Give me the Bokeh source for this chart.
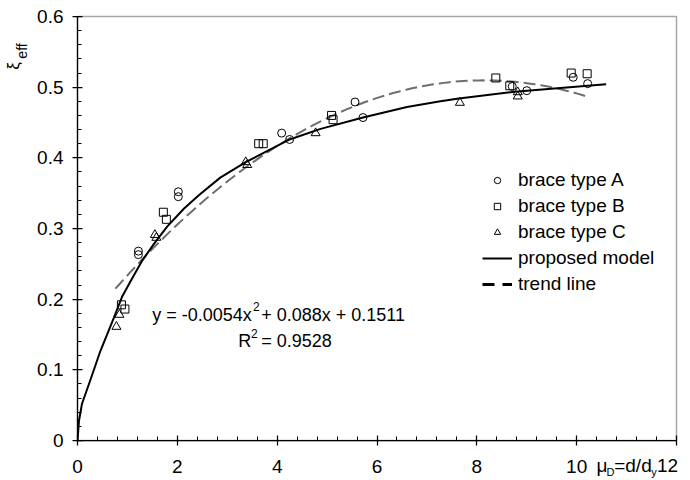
import numpy as np
from bokeh.plotting import figure
from bokeh.models import (Legend, LegendItem, Label, Range1d, FixedTicker, LinearAxis,
                          CustomJSTickFormatter)
from bokeh.embed import file_html
from bokeh.resources import INLINE

FONT = "Liberation Sans"
TXT = "19px"

# Equivalent damping ratio vs. ductility, per brace type
mu_a = [1.22, 1.22, 2.02, 2.02, 4.09, 4.25, 5.56, 5.72, 8.71, 9.00, 9.93, 10.22]
xi_a = [0.268, 0.263, 0.352, 0.345, 0.435, 0.426, 0.479, 0.457, 0.501, 0.495, 0.514, 0.505]

mu_b = [0.88, 0.95, 1.72, 1.78, 3.63, 3.72, 5.09, 5.12, 8.38, 8.66, 9.89, 10.21]
xi_b = [0.192, 0.186, 0.323, 0.313, 0.420, 0.420, 0.460, 0.454, 0.513, 0.502, 0.520, 0.519]

mu_c = [0.78, 0.84, 1.55, 1.58, 3.37, 3.40, 4.77, 7.66, 8.82, 8.82]
xi_c = [0.161, 0.178, 0.291, 0.287, 0.394, 0.390, 0.435, 0.478, 0.493, 0.487]

# Proposed model curve
model_mu = [0.00, 0.03, 0.09, 0.23, 0.46, 0.73, 0.89, 1.06, 1.30, 1.55, 1.80, 2.13,
            2.43, 2.86, 3.37, 4.25, 4.87, 5.72, 6.60, 7.27, 7.64, 8.82, 10.59]
model_xi = [0.000, 0.028, 0.052, 0.080, 0.127, 0.174, 0.203, 0.225, 0.255, 0.280, 0.303, 0.328,
            0.347, 0.372, 0.394, 0.426, 0.441, 0.457, 0.472, 0.480, 0.484, 0.494, 0.504]

# Quadratic trend line  y = a x^2 + b x + c
trend_a, trend_b, trend_c = -0.0054, 0.088, 0.1511
trend_r2 = 0.9528
trend_start, trend_end = 0.76, 10.19

# Axis ticks
x_ticks = [0, 2, 4, 6, 8, 10, 12]
y_ticks = [0.0, 0.1, 0.2, 0.3, 0.4, 0.5, 0.6]

trend_x = np.linspace(trend_start, trend_end, 120)
trend_y = trend_a * trend_x ** 2 + trend_b * trend_x + trend_c

p = figure(width=690, height=480, x_range=Range1d(0, 12), y_range=Range1d(0, 0.6),
           output_backend="svg", toolbar_location=None,
           min_border_left=77, min_border_right=14, min_border_top=16, min_border_bottom=40)
p.xgrid.visible = False
p.ygrid.visible = False
p.outline_line_color = "#a6a6a6"
p.outline_line_width = 1.5
p.background_fill_color = "white"

x_minor = [i * 0.4 for i in range(31)]
y_minor = [i * 0.02 for i in range(31)]
p.xaxis.ticker = FixedTicker(ticks=x_ticks, minor_ticks=x_minor)
p.yaxis.ticker = FixedTicker(ticks=y_ticks, minor_ticks=y_minor)
# the last x label is set inside the frame edge, next to the axis title
p.xaxis.formatter = CustomJSTickFormatter(
    code="return tick > 11 ? '' : tick.toFixed(0);")
p.yaxis.formatter = CustomJSTickFormatter(
    code="return Math.abs(tick) < 1e-9 ? '0' : tick.toFixed(1);")

for ax in (p.xaxis[0], p.yaxis[0]):
    ax.axis_line_color = "black"
    ax.axis_line_width = 1.25
    ax.major_tick_line_color = "black"
    ax.minor_tick_line_color = "black"
    ax.major_tick_line_width = 1.25
    ax.minor_tick_line_width = 1
    ax.major_tick_in = 5
    ax.major_tick_out = 5
    ax.minor_tick_in = 4
    ax.minor_tick_out = 0
    ax.major_label_text_font = FONT
    ax.major_label_text_font_size = TXT
    ax.major_label_text_color = "black"
p.xaxis.major_label_standoff = 14
p.yaxis.major_label_standoff = 9


def text_axis(side, ticks, labels, size, standoff, orientation="horizontal"):
    """Tick-less axis used only to place title pieces outside the frame."""
    ax = LinearAxis(
        ticker=FixedTicker(ticks=ticks, minor_ticks=[]),
        formatter=CustomJSTickFormatter(args=dict(labels=labels),
                                        code="return labels[index];"),
        axis_line_color=None, major_tick_line_color=None, minor_tick_line_color=None,
        major_tick_in=0, major_tick_out=0, minor_tick_in=0, minor_tick_out=0,
        major_label_standoff=standoff, major_label_orientation=orientation,
        major_label_text_font=FONT, major_label_text_font_size=size,
        major_label_text_color="black")
    p.add_layout(ax, side)


# x-axis title  μD=d/dy  beside the last tick label
text_axis("below", [10.508, 11.128, 11.822], ["μ", "=d/d", "12"], TXT, -21)
text_axis("below", [10.678, 11.549], ["D", "y"], "11px", -13)

# y-axis title  ξeff  near the top of the axis
text_axis("left", [0.5512], ["eff"], "14px", 4, "parallel")
text_axis("left", [0.530], ["ξ"], "17px", -12, "parallel")

trend = p.line(trend_x, trend_y, line_color="#6e6e6e", line_width=2, line_dash="12 5")
model = p.line(model_mu, model_xi, line_color="black", line_width=2)

ra = p.scatter(mu_a, xi_a, marker="circle", size=8, fill_color=None,
               line_color="black", line_width=1)
rb = p.scatter(mu_b, xi_b, marker="square", size=8, fill_color=None,
               line_color="black", line_width=1)
rc = p.scatter(mu_c, xi_c, marker="triangle", size=9, fill_color=None,
               line_color="black", line_width=1)

# legend sample for the trend line (bold dashed)
trend_key = p.line([np.nan], [np.nan], line_color="black", line_width=3, line_dash="12 8")

legend = Legend(items=[
    LegendItem(label="brace type A", renderers=[ra]),
    LegendItem(label="brace type B", renderers=[rb]),
    LegendItem(label="brace type C", renderers=[rc]),
    LegendItem(label="proposed model", renderers=[model]),
    LegendItem(label="trend line", renderers=[trend_key]),
], location=(405, 145), glyph_width=30, glyph_height=16, label_height=21,
    label_standoff=6, spacing=4, padding=0, margin=0,
    border_line_color=None, background_fill_alpha=0,
    label_text_font=FONT, label_text_font_size=TXT, label_text_color="black")
p.add_layout(legend)


def text(x, y, s, size):
    p.add_layout(Label(x=x, y=y, text=s, text_font=FONT, text_font_size=size,
                       text_color="black", text_align="left",
                       text_baseline="alphabetic"))


# fitted equation
EQ = "18px"
text(1.496, 0.1778, f"y = {trend_a:g}x", EQ)
text(3.516, 0.1891, "2", "12px")
text(3.68, 0.1778, f"+ {trend_b:g}x + {trend_c:g}", EQ)
text(3.219, 0.1410, "R", EQ)
text(3.478, 0.1515, "2", "12px")
text(3.68, 0.1410, f"= {trend_r2:g}", EQ)

open("out.html", "w").write(file_html(p, INLINE))
